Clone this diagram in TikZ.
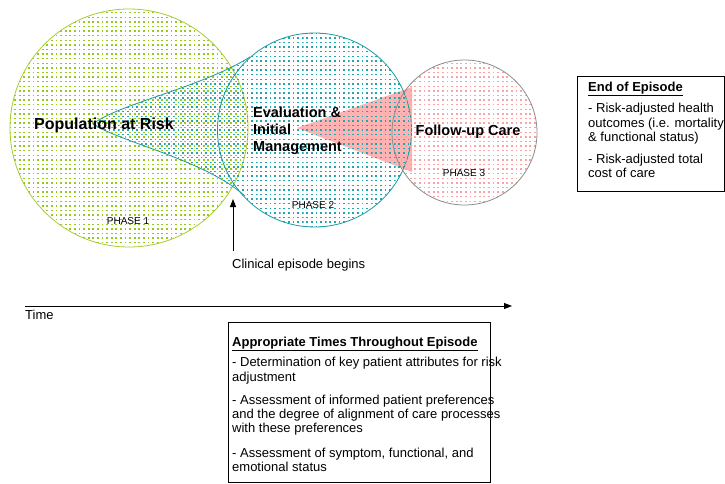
\documentclass[tikz,border=0pt]{standalone}
\usepackage{fontspec}
\setmainfont{Liberation Sans}
\usetikzlibrary{arrows.meta,patterns.meta}

\definecolor{greenline}{RGB}{165,205,50}
\definecolor{greendot}{RGB}{150,200,30}
\definecolor{tealline}{RGB}{25,155,160}
\definecolor{tealdot}{RGB}{35,165,175}
\definecolor{grayline}{RGB}{140,140,140}
\definecolor{pinkdot}{RGB}{245,165,165}
\definecolor{wedgepink}{RGB}{255,178,178}

% small dot grids used as stippled fills
\tikzdeclarepattern{
  name=dotgridA, type=uncolored,
  bottom left={(-0.1pt,-0.1pt)}, top right={(4.7pt,4.7pt)},
  tile size={(4.6pt,4.6pt)},
  code={\fill (0.4pt,0.4pt) rectangle (2.2pt,1.8pt);}
}
\tikzdeclarepattern{
  name=dotgridB, type=uncolored,
  bottom left={(-0.1pt,-0.1pt)}, top right={(4.7pt,4.7pt)},
  tile size={(4.6pt,4.6pt)},
  code={\fill (2.7pt,2.7pt) rectangle (4.5pt,4.1pt);}
}

\begin{document}
\begin{tikzpicture}[x=1pt,y=-1pt,
  phasecircle/.style={circle, inner sep=0pt, outer sep=0pt, line width=0.8pt},
  bigtext/.style={inner sep=0pt, font=\fontsize{14.5}{17}\selectfont\bfseries},
  phasetext/.style={inner sep=0pt, anchor=base, font=\fontsize{10}{12}\selectfont},
  bodytext/.style={inner sep=0pt, anchor=base west, font=\fontsize{13}{14.5}\selectfont},
  headtext/.style={bodytext, font=\fontsize{13}{14.5}\selectfont\bfseries},
  infobox/.style={draw=black, line width=0.9pt, inner sep=0pt, anchor=north west},
  arrowline/.style={draw=black, line width=0.9pt, -{Triangle[length=8pt,width=6pt]}}]

\useasboundingbox (0,0) rectangle (725,483);

% solid wedge reaching from phase 2 into phase 3
\fill[wedgepink] (297,128) -- (412,87) -- (412,172) -- cycle;

% the three phases
\node[phasecircle, minimum size=238pt, draw=greenline,
      pattern=dotgridA, pattern color=greendot] (phaseone) at (129,128) {};

\coordinate (horntip) at (93,124);
\coordinate (hornup) at (250,57);
\coordinate (hornlow) at (245,196);
\path[pattern=dotgridB, pattern color=tealdot]
  (horntip) .. controls (118,104) and (200,88) .. (hornup)
  -- (hornlow) .. controls (205,160) and (120,142) .. (horntip) -- cycle;
\draw[tealline, line width=0.8pt]
  (hornup) .. controls (200,88) and (118,104) .. (horntip)
  .. controls (120,142) and (205,160) .. (hornlow);

\node[phasecircle, minimum size=194pt, draw=tealline,
      pattern=dotgridB, pattern color=tealdot] (phasetwo) at (314.5,130) {};
\node[phasecircle, minimum size=145pt, draw=grayline,
      pattern=dotgridA, pattern color=pinkdot] (phasethree) at (464.5,132.5) {};

% phase titles
\node[bigtext, anchor=base, font=\fontsize{16}{18}\selectfont\bfseries] (poplabel) at (104,129.3) {Population at Risk};
\node[bigtext, anchor=base west] (evalone) at (253,117) {Evaluation \&};
\node[bigtext, anchor=base west] (evaltwo) at (253,134) {Initial};
\node[bigtext, anchor=base west] (evalthree) at (253,151) {Management};
\node[bigtext, anchor=base] (followlabel) at (468,135) {Follow-up Care};

\node[phasetext] (phonelabel) at (128,224) {PHASE 1};
\node[phasetext] (phtwolabel) at (313,208) {PHASE 2};
\node[phasetext] (phthreelabel) at (464,176.5) {PHASE 3};

% start of the clinical episode
\node[bodytext] (beginlabel) at (232,268) {Clinical episode begins};
\coordinate (begintail) at (233,251);
\coordinate (beginhead) at (233,199);
\draw[arrowline] (begintail) -- (beginhead);

% time axis
\coordinate (timestart) at (25,306);
\coordinate (timeend) at (512,306);
\draw[arrowline] (timestart) -- (timeend);
\node[bodytext] (timelabel) at (25,319) {Time};

% end of episode measures
\node[infobox, minimum width=147pt, minimum height=115pt] (endbox) at (577,76) {};
\node[headtext] (endhead) at (588,91.5) {\underline{End of Episode}};
\foreach \yy/\txt [count=\k] in {
  112.5/{- Risk-adjusted health},
  127/{outcomes (i.e. mortality},
  141/{\& functional status)},
  163/{- Risk-adjusted total},
  177/{cost of care}}
  \node[bodytext] (endline\k) at (588,\yy) {\txt};

% measures taken throughout the episode
\node[infobox, minimum width=262pt, minimum height=160pt] (throughbox) at (228,322) {};
\node[headtext] (throughhead) at (232,346.5) {\underline{Appropriate Times Throughout Episode}};
\foreach \yy/\txt [count=\k] in {
  366.5/{- Determination of key patient attributes for risk},
  381/{adjustment},
  404.5/{- Assessment of informed patient preferences},
  418.5/{and the degree of alignment of care processes},
  432.5/{with these preferences},
  457.5/{- Assessment of symptom, functional, and},
  471.5/{emotional status}}
  \node[bodytext] (throughline\k) at (232,\yy) {\txt};

\end{tikzpicture}
\end{document}
